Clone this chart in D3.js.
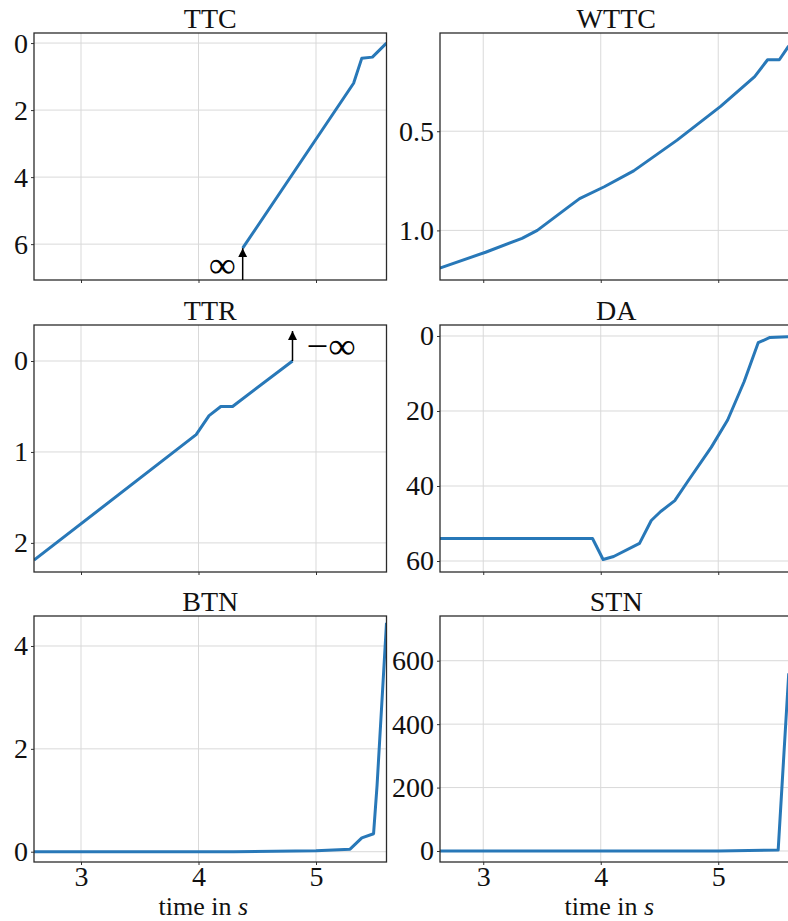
<!DOCTYPE html>
<html lang="en">
<head>
<meta charset="utf-8">
<title>Criticality measures over time</title>
<script src="https://d3js.org/d3.v7.min.js"></script>
<style>
  body { margin: 0; background: #fff; }
  svg { display: block; font-family: "Liberation Serif", "Times New Roman", serif; }
  .grid line { stroke: #d9d9d9; stroke-width: 1; }
  .axis path { display: none; }
  .axis line { stroke: #333; stroke-width: 1; }
  .axis text { font-size: 28px; fill: #111; font-family: "Liberation Serif", serif; }
  .title { font-size: 28px; fill: #111; text-anchor: middle; }
  .xlabel { font-size: 26px; fill: #111; text-anchor: middle; }
  .series { fill: none; stroke: #2878b8; stroke-width: 3; stroke-linejoin: round; }
  .frame { fill: none; stroke: #2b2b2b; stroke-width: 1.3; }
</style>
</head>
<body>
<svg width="788" height="921"></svg>
<script>

// shared time ticks
var timeTicks = [3, 4, 5];

// TTC (time to collision), inverted axis
var ttcTime  = [4.376, 5.32, 5.39, 5.48, 5.6];
var ttcValue = [6.12, 1.2, 0.45, 0.42, 0.0];
var ttcTicks = [0, 2, 4, 6];

// WTTC, inverted axis
var wttcTime  = [2.63, 3.02, 3.33, 3.46, 3.74, 3.82, 4.03, 4.28, 4.65, 5.02, 5.31, 5.42, 5.52, 5.6];
var wttcValue = [1.19, 1.11, 1.04, 1.0, 0.875, 0.84, 0.78, 0.70, 0.545, 0.375, 0.225, 0.14, 0.14, 0.07];
var wttcTicks = [0.5, 1.0];

// TTR (time to react), inverted axis
var ttrTime  = [2.6, 3.98, 4.09, 4.19, 4.29, 4.80];
var ttrValue = [2.19, 0.81, 0.60, 0.50, 0.50, 0.0];
var ttrTicks = [0, 1, 2];

// DA (deceleration), inverted axis
var daTime  = [2.63, 3.93, 4.02, 4.11, 4.33, 4.43, 4.51, 4.63, 4.74, 4.94, 5.08, 5.22, 5.34, 5.44, 5.6];
var daValue = [54, 54, 59.6, 58.8, 55.3, 49.2, 46.8, 43.9, 38.8, 29.7, 22.4, 12.2, 1.8, 0.4, 0.2];
var daTicks = [0, 20, 40, 60];

// BTN (brake threat number)
var btnTime  = [2.6, 4.3, 5.0, 5.29, 5.39, 5.49, 5.52, 5.6];
var btnValue = [0, 0, 0.02, 0.05, 0.27, 0.35, 1.3, 4.45];
var btnTicks = [0, 2, 4];

// STN (steer threat number)
var stnTime  = [2.63, 5.0, 5.51, 5.6];
var stnValue = [0, 0, 3, 560];
var stnTicks = [0, 200, 400, 600];

var svg = d3.select("svg");

var cols = [[34, 386.5, 2.6, 5.6], [440, 792.5, 2.632, 5.632]];
var rows = [[33, 280], [325, 572], [616, 862]];

// value at the top edge / bottom edge of each panel
var panels = [
  { title: "TTC",  t: ttcTime,  v: ttcValue,  ticks: ttcTicks,  fmt: d3.format("d"),   top: -0.3,  bottom: 7.07,  col: 0, row: 0 },
  { title: "WTTC", t: wttcTime, v: wttcValue, ticks: wttcTicks, fmt: d3.format(".1f"), top: 0.005, bottom: 1.25,  col: 1, row: 0 },
  { title: "TTR",  t: ttrTime,  v: ttrValue,  ticks: ttrTicks,  fmt: d3.format("d"),   top: -0.396, bottom: 2.32, col: 0, row: 1 },
  { title: "DA",   t: daTime,   v: daValue,   ticks: daTicks,   fmt: d3.format("d"),   top: -2.93, bottom: 62.93, col: 1, row: 1 },
  { title: "BTN",  t: btnTime,  v: btnValue,  ticks: btnTicks,  fmt: d3.format("d"),   top: 4.583, bottom: -0.2,  col: 0, row: 2 },
  { title: "STN",  t: stnTime,  v: stnValue,  ticks: stnTicks,  fmt: d3.format("d"),   top: 741,   bottom: -34.7, col: 1, row: 2 }
];

var defs = svg.append("defs");
defs.append("marker")
    .attr("id", "head")
    .attr("viewBox", "0 0 10 10")
    .attr("refX", 10).attr("refY", 5)
    .attr("markerWidth", 9).attr("markerHeight", 10)
    .attr("markerUnits", "userSpaceOnUse")
    .attr("orient", "auto")
  .append("path")
    .attr("d", "M0,0 L10,5 L0,10 z")
    .attr("fill", "#000");

panels.forEach(function(p, i) {
  var c = cols[p.col], r = rows[p.row];
  var x = d3.scaleLinear().domain([c[2], c[3]]).range([c[0], c[1]]);
  var y = d3.scaleLinear().domain([p.top, p.bottom]).range([r[0], r[1]]);
  p.x = x; p.y = y;

  defs.append("clipPath").attr("id", "clip" + i)
    .append("rect")
      .attr("x", c[0]).attr("y", r[0])
      .attr("width", c[1] - c[0]).attr("height", r[1] - r[0]);

  var g = svg.append("g");

  // grid
  var grid = g.append("g").attr("class", "grid");
  grid.selectAll(".vx").data(timeTicks).enter().append("line")
      .attr("x1", function(d) { return x(d); }).attr("x2", function(d) { return x(d); })
      .attr("y1", r[0]).attr("y2", r[1]);
  grid.selectAll(".hy").data(p.ticks).enter().append("line")
      .attr("x1", c[0]).attr("x2", c[1])
      .attr("y1", function(d) { return y(d); }).attr("y2", function(d) { return y(d); });

  // the series
  var pts = p.t.map(function(t, k) { return [t, p.v[k]]; });
  g.append("path")
      .datum(pts)
      .attr("class", "series")
      .attr("clip-path", "url(#clip" + i + ")")
      .attr("d", d3.line().x(function(d) { return x(d[0]); }).y(function(d) { return y(d[1]); }));

  // axes
  var xAxis = d3.axisBottom(x).tickValues(timeTicks).tickSize(3).tickPadding(1).tickFormat(d3.format("d"));
  if (p.row < 2) xAxis.tickFormat("");
  g.append("g").attr("class", "axis")
      .attr("transform", "translate(0," + r[1] + ")")
      .call(xAxis);

  g.append("g").attr("class", "axis")
      .attr("transform", "translate(" + c[0] + ",0)")
      .call(d3.axisLeft(y).tickValues(p.ticks).tickFormat(p.fmt).tickSize(3).tickPadding(3));

  g.append("rect").attr("class", "frame")
      .attr("x", c[0]).attr("y", r[0])
      .attr("width", c[1] - c[0]).attr("height", r[1] - r[0]);

  g.append("text").attr("class", "title")
      .attr("x", (c[0] + c[1]) / 2).attr("y", r[0] - 5)
      .text(p.title);

  if (p.row == 2) {
    var lab = g.append("text").attr("class", "xlabel")
        .attr("x", (c[0] + c[1]) / 2 - 7).attr("y", 915);
    lab.append("tspan").text("time in ");
    lab.append("tspan").attr("font-style", "italic").text("s");
  }
});

// infinity markers where TTC / TTR leave the axis range
var ttc = panels[0], ttr = panels[2];
var ax = ttc.x(ttcTime[0]);
svg.append("line")
    .attr("x1", ax).attr("x2", ax)
    .attr("y1", rows[0][1]).attr("y2", ttc.y(ttcValue[0]))
    .attr("stroke", "#000").attr("stroke-width", 1.5)
    .attr("marker-end", "url(#head)");
svg.append("text")
    .attr("x", ax - 7).attr("y", 264)
    .attr("dy", "0.35em")
    .attr("text-anchor", "end")
    .attr("font-size", 36)
    .attr("textLength", 27).attr("lengthAdjust", "spacingAndGlyphs")
    .text("\u221e");

var bx = ttr.x(ttrTime[ttrTime.length - 1]);
svg.append("line")
    .attr("x1", bx).attr("x2", bx)
    .attr("y1", ttr.y(0)).attr("y2", 331)
    .attr("stroke", "#000").attr("stroke-width", 1.5)
    .attr("marker-end", "url(#head)");
svg.append("text")
    .attr("x", bx + 14).attr("y", 345)
    .attr("dy", "0.35em")
    .attr("font-size", 36)
    .attr("textLength", 49).attr("lengthAdjust", "spacingAndGlyphs")
    .text("\u2212\u221e");

</script>
</body>
</html>
